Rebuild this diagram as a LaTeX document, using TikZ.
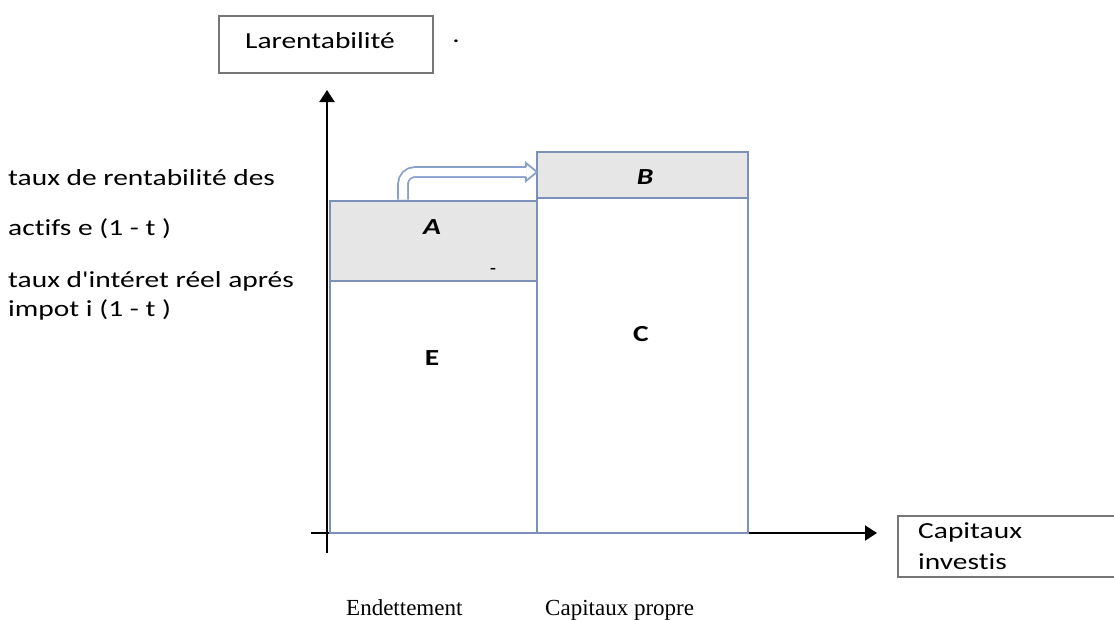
\documentclass[tikz,border=0pt]{standalone}
\usepackage{fontspec}
\setmainfont{Liberation Serif}
\newfontfamily\calib[FakeStretch=1.28, Ligatures=NoCommon]{Carlito}
\usepackage{tikz}
\usetikzlibrary{arrows.meta, calc, positioning}
\tikzset{>={Triangle[width=15pt,length=12pt]}}
\definecolor{boxblue}{RGB}{124,144,186}
\definecolor{boxgray}{RGB}{230,230,230}
\definecolor{arrblue}{RGB}{138,160,204}
\definecolor{framegray}{RGB}{118,118,118}

\begin{document}
\begin{tikzpicture}[x=1pt, y=-1pt,
	bar/.style={draw=boxblue, line width=2.6pt, anchor=north west, inner sep=0pt, outer sep=0pt},
	frame/.style={draw=framegray, line width=2.6pt, anchor=north west, inner sep=0pt, outer sep=0pt},
	txt/.style={font=\calib\fontsize{23}{27}\selectfont, inner sep=0pt},
	serif/.style={font=\fontsize{23}{27}\selectfont, inner sep=0pt},
	axis/.style={line width=2pt, black}]
	\clip (0,0) rectangle (1114,619);
	% axes
	\coordinate (o) at (327,553);  \coordinate (ytop) at (327,90);
	\coordinate (xl) at (311,533); \coordinate (xr) at (877,533);
	\draw [axis, ->](o) -- (ytop); \draw [axis, ->](xl) -- (xr);

	\node [bar, fill=boxgray, minimum width=207pt, minimum height=80pt] (A) at (330,201) {};
	\node [bar, minimum width=207pt, minimum height=252pt] (E) at (330,281) {};
	\node [bar, fill=boxgray, minimum width=211pt, minimum height=46pt] (B) at (537,152) {};
	\node [bar, minimum width=211pt, minimum height=335pt] (C) at (537,198) {};
	\node [txt] (la) at (432,227) {\bfseries\itshape A};
	\node [txt] (lb) at (645,177) {\bfseries\itshape B};
	\node [txt] (le) at (432,358) {\bfseries E};
	\node [txt] (lc) at (641,334) {\bfseries C};
	\node [txt, font=\calib\fontsize{15}{18}\bfseries] (dash) at (493,271) {-};

	% hollow arrow A -> B
	\coordinate (s) at ($(A.north west)+(73,-1.3)$);
	\coordinate (t) at ($(B.west)+(-11,-3)$);
	\draw [arrblue, line width=1.8pt, double=white, double distance=8pt, rounded corners=12pt](s) |- (t);
	\draw [arrblue, line width=1.8pt, line join=miter]($(t)+(0,-4.9)$) -- ($(t)+(0,-9)$) -- ($(t)+(11,0)$) -- ($(t)+(0,9)$) -- ($(t)+(0,4.9)$);

	\node [frame, minimum width=214pt, minimum height=57pt] (rent) at (219,16) {};
	\node [txt, anchor=base west] (lrent) at (245,48) {Larentabilité};
	\node [txt, anchor=base] (dot) at (456,42) {.};
	\node [frame, minimum width=240pt, minimum height=61pt] (cap) at (898,516) {};
	\node [txt, anchor=base west] (lcap1) at (918,538) {Capitaux};
	\node [txt, anchor=base west] (lcap2) at (918,569) {investis};

	\node [txt, anchor=base west] (l1) at (8,185) {taux de rentabilité des};
	\node [txt, anchor=base west] (l2) at (8,235) {actifs e (1 - t )};
	\node [txt, anchor=base west] (l3) at (8,287) {taux d'intéret réel aprés};
	\node [txt, anchor=base west] (l4) at (8,316) {impot i (1 - t )};

	\node [serif, anchor=base west] (endet) at (346,615) {Endettement};
	\node [serif, anchor=base west] (propre) at (545,615) {Capitaux propre};
\end{tikzpicture}
\end{document}
